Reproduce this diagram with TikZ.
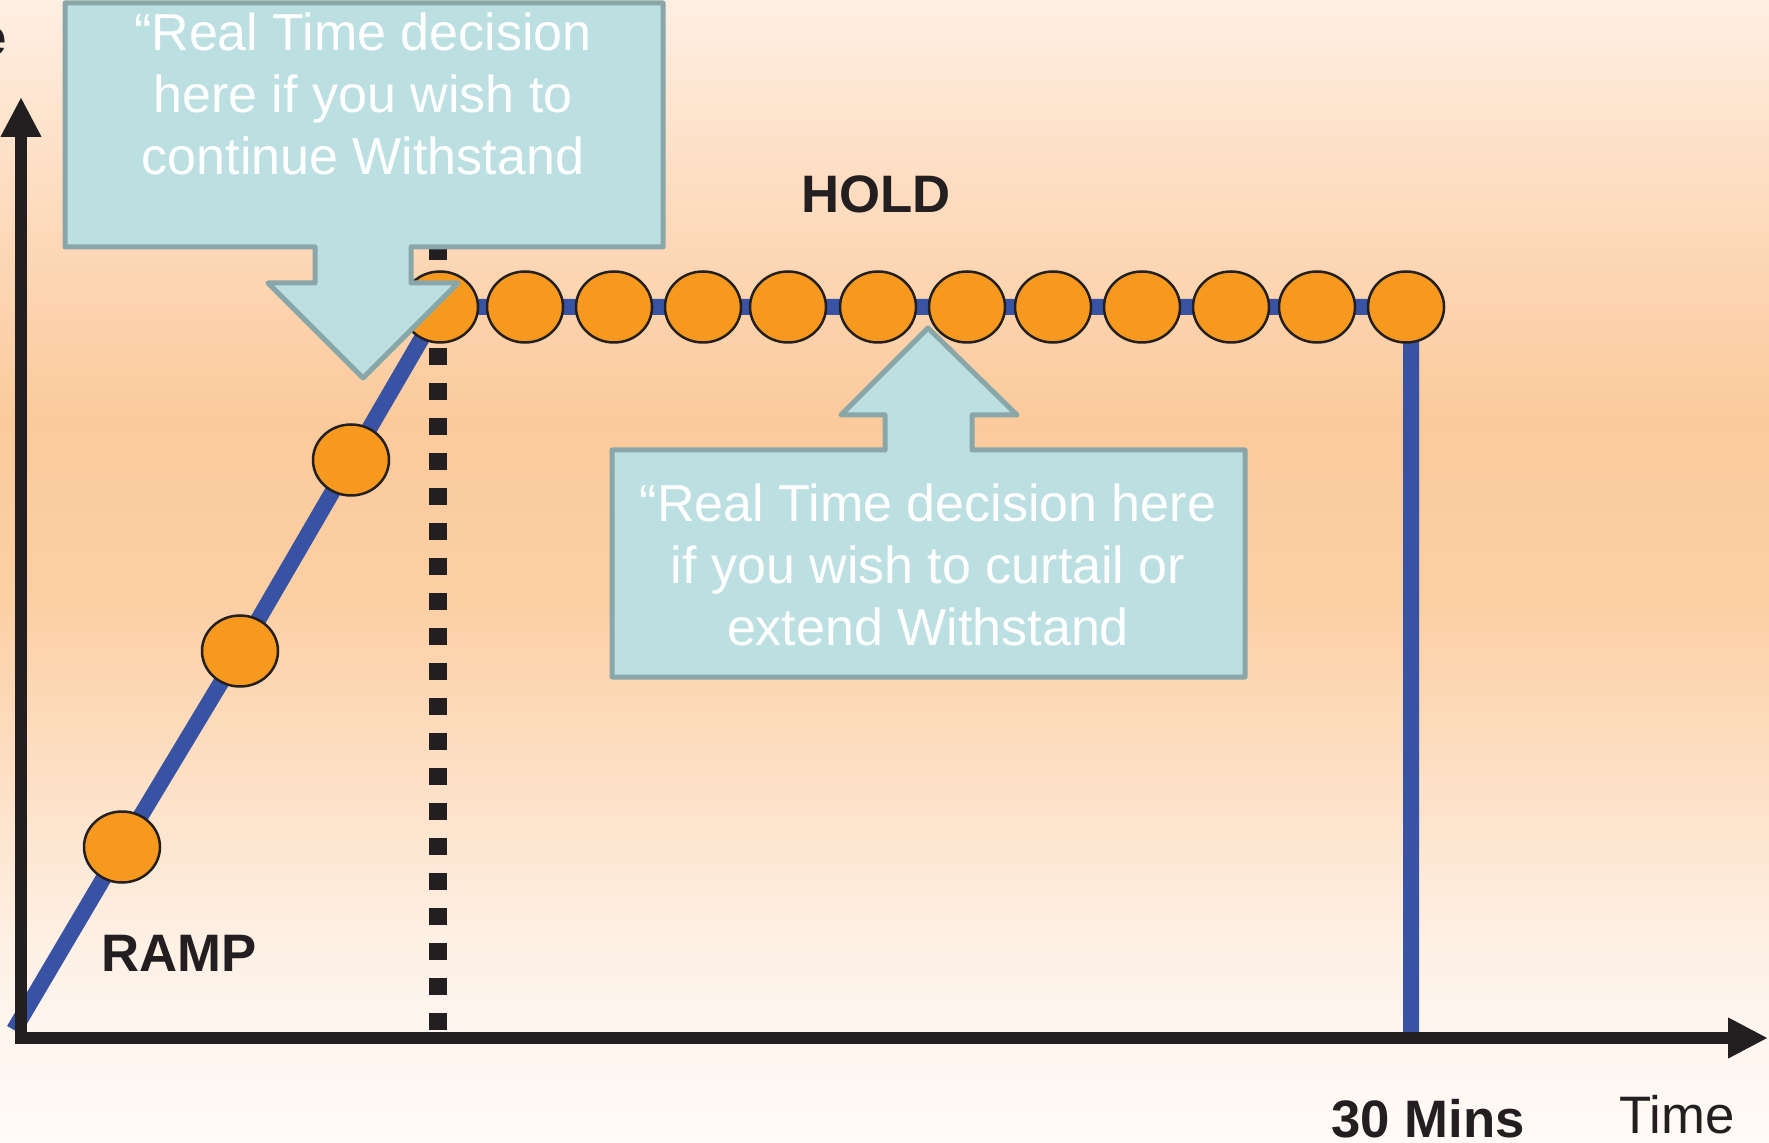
\documentclass[tikz,border=0pt]{standalone}
\usepackage{fontspec}
\setmainfont{Liberation Sans}
\usetikzlibrary{arrows.meta,shapes.geometric,backgrounds}
\definecolor{axisblack}{HTML}{231F20}
\definecolor{rampblue}{HTML}{3953A4}
\definecolor{beadorange}{HTML}{F8991F}
\definecolor{callfill}{HTML}{BCDFE2}
\definecolor{calledge}{HTML}{89A6A9}
\definecolor{bgA}{HTML}{FEEFE3}
\definecolor{bgB}{HTML}{FDDCBF}
\definecolor{bgC}{HTML}{FBCA9C}
\definecolor{bgD}{HTML}{FCCFA4}
\definecolor{bgE}{HTML}{FDE2C9}
\definecolor{bgF}{HTML}{FEF1E6}
\definecolor{bgG}{HTML}{FFFBF8}

\begin{document}
\begin{tikzpicture}[
  x=0.1mm, y=-0.1mm,
  font=\fontsize{15pt}{18pt}\selectfont,
  >={Triangle[length=4mm,width=3.8mm]},
  bead/.style={ellipse,draw=axisblack,line width=0.25mm,fill=beadorange,
    minimum width=7.6mm,minimum height=7.1mm,inner sep=0pt},
  ramp/.style={rampblue,line width=1.6mm,line join=miter},
  callout/.style={fill=callfill,draw=calledge,line width=0.5mm,line join=round},
  calltext/.style={white,align=center,font=\fontsize{14.8pt}{17.6pt}\selectfont},
  lbl/.style={axisblack,font=\fontsize{15pt}{18pt}\selectfont\bfseries},
]
\useasboundingbox (0,0) rectangle (1769,1143);

% ============ background ============
\begin{scope}[on background layer]
\foreach \ya/\yb/\ca/\cb in {0/200/bgA/bgB, 200/420/bgB/bgC, 420/600/bgC/bgD,
    600/800/bgD/bgE, 800/950/bgE/bgF, 950/1143/bgF/bgG}
  \shade[top color=\ca,bottom color=\cb] (0,\ya-1) rectangle (1769,\yb);
\end{scope}

% ============ dotted line at end of ramp ============
\coordinate (dtop) at (438,243);
\coordinate (dbot) at (438,1030);
\draw[axisblack,line width=1.8mm,dash pattern=on 1.7mm off 1.8mm] (dbot) -- (dtop);

% ============ beads ============
\node[bead] (r1) at (122,847) {};
\node[bead] (r2) at (240,651) {};
\node[bead] (r3) at (351,460) {};
\foreach \x [count=\i] in {440,525,614,703,788,878,967,1053,1142,1231,1317,1406}
  \node[bead] (h\i) at (\x,307) {};

% ramp + hold + drop
\coordinate (start) at (14,1030);
\coordinate (drop) at (1411,307);
\coordinate (stop) at (1411,1032);
\begin{scope}[on background layer]
\draw[ramp] (start) -- (r1.center) -- (r2.center) -- (r3.center) -- (h1.center)
  -- (drop) -- (stop);
\end{scope}

% ============ axes ============
\coordinate (ytop) at (21,97);
\coordinate (origin) at (21,1038);
\coordinate (xend) at (1768,1038);
\draw[axisblack,line width=1.2mm,line join=miter,<->] (ytop) -- (origin) -- (xend);

% ============ callouts ============
\draw[callout] (65,3) -- (663,3) -- (663,247) -- (411,247) -- (411,283) -- (458,283)
  -- (363,378) -- (268,283) -- (315,283) -- (315,247) -- (65,247) -- cycle;
\node[calltext] (topnote) at (363,94)
  {“Real Time decision\\here if you wish to\\continue Withstand};

\draw[callout] (612,450) -- (885,450) -- (885,415) -- (841,415) -- (928,328)
  -- (1017,415) -- (972,415) -- (972,450) -- (1245,450) -- (1245,677) -- (612,677) -- cycle;
\node[calltext] (botnote) at (928,565)
  {“Real Time decision here\\if you wish to curtail or\\extend Withstand};

% ============ labels ============
\node[lbl,anchor=east,inner sep=0pt] (ylab) at (8,42) {e};
\node[lbl] (hold) at (876,194) {HOLD};
\node[lbl] (rampl) at (179,953) {RAMP};
\node[lbl] (mins) at (1428,1119) {30 Mins};
\node[axisblack] (time) at (1677,1115) {Time};

\end{tikzpicture}
\end{document}
